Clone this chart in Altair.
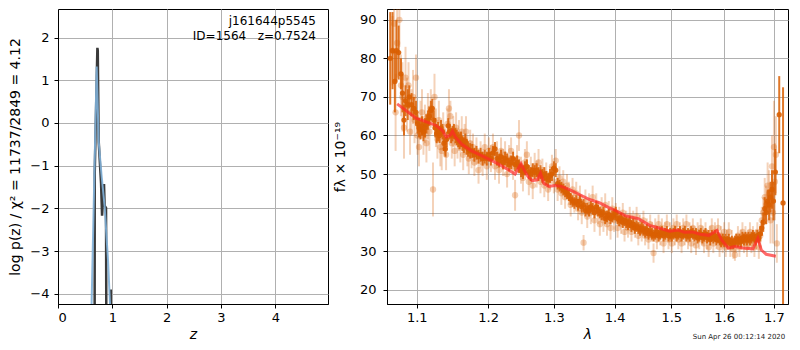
import altair as alt
import pandas as pd

# ---------------- left panel: log p(z) ----------------
z_black = [0.672, 0.676, 0.725, 0.732, 0.749, 0.793, 0.811, 0.847, 0.858, 0.884, 0.905, 0.972, 0.976]
lp_black = [-12, -1.19, 1.76, 1.70, -0.43, -1.42, -2.17, -1.43, -1.94, -1.99, -12, -3.9, -12]
z_blue = [0.600, 0.616, 0.712, 0.749, 0.800, 0.858, 0.920, 0.963, 0.985]
lp_blue = [-5.5, -4.39, 1.32, -0.43, -1.20, -1.95, -3.20, -4.39, -5.5]
label_lines = ["j161644p5545", "ID=1564\u00a0\u00a0\u00a0z=0.7524"]
z_ticks = [0, 1, 2, 3, 4]
lp_ticks = [-4, -3, -2, -1, 0, 1, 2]

# ---------------- right panel: spectrum ----------------
lam_light = [
    1.068, 1.070, 1.072, 1.074, 1.077, 1.079, 1.081, 1.083, 1.085, 1.087,
    1.089, 1.091, 1.093, 1.095, 1.097, 1.099, 1.101, 1.103, 1.105, 1.107,
    1.109, 1.111, 1.113, 1.115, 1.117, 1.119, 1.122, 1.124, 1.126, 1.128,
    1.130, 1.132, 1.134, 1.136, 1.138, 1.140, 1.142, 1.144, 1.146, 1.148,
    1.150, 1.152, 1.154, 1.156, 1.158, 1.160, 1.162, 1.164, 1.166, 1.168,
    1.170, 1.172, 1.174, 1.176, 1.178, 1.180, 1.183, 1.186, 1.189, 1.192,
    1.195, 1.198, 1.201, 1.204, 1.207, 1.210, 1.213, 1.216, 1.219, 1.222,
    1.225, 1.228, 1.231, 1.234, 1.237, 1.240, 1.243, 1.246, 1.249, 1.252,
    1.255, 1.258, 1.261, 1.264, 1.267, 1.270, 1.273, 1.276, 1.279, 1.282,
    1.285, 1.288, 1.291, 1.294, 1.297, 1.300, 1.303, 1.306, 1.309, 1.312,
    1.315, 1.318, 1.321, 1.324, 1.327, 1.330, 1.333, 1.336, 1.339, 1.342,
    1.345, 1.348, 1.351, 1.354, 1.357, 1.360, 1.363, 1.366, 1.369, 1.372,
    1.375, 1.378, 1.381, 1.384, 1.387, 1.390, 1.393, 1.396, 1.399, 1.402,
    1.405, 1.408, 1.411, 1.414, 1.417, 1.420, 1.423, 1.426, 1.429, 1.432,
    1.435, 1.438, 1.441, 1.444, 1.447, 1.450, 1.453, 1.456, 1.459, 1.462,
    1.465, 1.468, 1.471, 1.474, 1.477, 1.480, 1.483, 1.486, 1.489, 1.492,
    1.495, 1.498, 1.501, 1.504, 1.507, 1.510, 1.513, 1.516, 1.519, 1.522,
    1.525, 1.528, 1.531, 1.534, 1.537, 1.540, 1.543, 1.546, 1.549, 1.552,
    1.555, 1.558, 1.561, 1.564, 1.567, 1.570, 1.573, 1.576, 1.579, 1.582,
    1.585, 1.588, 1.591, 1.594, 1.597, 1.600, 1.603, 1.606, 1.609, 1.612,
    1.615, 1.618, 1.621, 1.624, 1.627, 1.630, 1.633, 1.636, 1.639, 1.642,
    1.645, 1.648, 1.651, 1.654, 1.657, 1.660, 1.663, 1.666, 1.669, 1.672,
    1.675, 1.678, 1.681, 1.684, 1.687, 1.690, 1.693, 1.696, 1.698, 1.700,
    1.702, 1.704, 1.706,
]
flux_light = [
    82, 89, 66, 84, 90, 73, 70, 62, 75, 68,
    73, 61, 66, 70, 64, 75, 60, 57, 64, 66,
    60, 63, 58, 65, 61, 67, 46, 70, 62, 59,
    64, 57, 56, 61, 59, 55, 63, 67, 65, 58,
    61, 56, 62, 58, 60, 57, 61, 55, 59, 61,
    56, 54, 58, 55, 57, 53, 56, 51, 55, 53,
    57, 52, 56, 54, 57, 52, 55, 51, 56, 53,
    55, 50, 54, 56, 52, 44.5, 54, 60, 51, 49,
    53, 55, 48, 51, 47, 52, 50, 53, 48, 51,
    47, 50, 46, 49, 52, 48, 53.5, 46, 49, 45,
    48, 44, 47, 45, 42, 46, 43, 45, 41, 44,
    40, 32.2, 43, 39, 42, 40, 44, 38, 42, 40,
    37, 41, 38, 42, 37, 40, 36, 41, 38, 40,
    36, 39, 37, 40, 35, 38, 36, 39, 35, 38,
    36, 39, 34, 37, 35, 38, 34, 36, 33, 37,
    35, 29.5, 36, 33, 37, 34, 36, 32, 35, 37,
    33, 35, 32, 36, 34, 37, 33, 35, 32, 36,
    34, 37, 33, 35, 32, 36, 34, 31.5, 35, 33,
    36, 34, 32, 35, 33, 31, 34, 36, 32, 35,
    33, 36, 31, 34, 32, 35, 31, 33, 35, 31,
    33, 30.5, 29, 32, 34, 31, 33, 35, 32, 34,
    31, 33, 35, 32, 34, 31, 33, 35, 31, 34,
    38, 40, 44, 42, 47, 45, 38, 52, 40, 57,
    48, 55, 32,
]
err_light = [
    9, 8, 10, 9, 7, 8, 9, 8, 8, 7,
    6, 6, 6, 7, 6, 6, 5, 5, 5, 6,
    5, 5, 5, 6, 5, 5, 7, 6, 5, 5,
    5, 5, 5, 5, 4, 4, 4, 5, 4, 4,
    4, 4, 4, 4, 4, 4, 4, 4, 4, 4,
    4, 4, 3.5, 3.5, 3.5, 3.5, 3.5, 3.5, 3.5, 3.5,
    3.5, 3.5, 3.5, 3.5, 3.5, 3.5, 3.5, 3.5, 3.5, 3.5,
    3.5, 3.5, 3.5, 3.5, 3.5, 4, 3.5, 4, 3.5, 3.5,
    3.5, 3.5, 3.5, 3.5, 3.5, 3.5, 3.5, 3.5, 3, 3,
    3, 3, 3, 3, 3, 3, 3, 3, 3, 3,
    3, 3, 3, 3, 3, 3, 3, 3, 3, 3,
    3, 2, 3, 3, 3, 3, 3, 3, 3, 3,
    3, 3, 3, 3, 3, 3, 3, 3, 3, 2.5,
    2.5, 2.5, 2.5, 2.5, 2.5, 2.5, 2.5, 2.5, 2.5, 2.5,
    2.5, 2.5, 2.5, 2.5, 2.5, 2.5, 2.5, 2.5, 2.5, 2.5,
    2.5, 2.5, 2.5, 2.5, 2.5, 2.5, 2.5, 2.5, 2.5, 2.5,
    2.5, 2.5, 2.5, 2.5, 2.5, 2.5, 2.5, 2.5, 2.5, 2.5,
    2.5, 2.5, 2.5, 2.5, 2.5, 2.5, 2.5, 2.5, 2.5, 2.5,
    2.5, 2.5, 2.5, 2.5, 2.5, 2.5, 2.5, 2.5, 2.5, 2.5,
    2.5, 2.5, 2.5, 2.5, 2.5, 2.5, 2.5, 2.5, 2.5, 2.5,
    2.5, 2.5, 1.5, 2.5, 2.5, 2.5, 2.5, 2.5, 2.5, 2.5,
    2.5, 2.5, 2.5, 2.5, 2.5, 2.5, 2.5, 2.5, 3, 3,
    3.5, 4, 5, 5, 6, 6, 6, 8, 8, 12,
    10, 10, 5,
]

lam_dark = [
    1.065, 1.068, 1.071, 1.073, 1.076, 1.079, 1.081, 1.083, 1.085, 1.088,
    1.090, 1.093, 1.096, 1.099, 1.101, 1.103, 1.105, 1.107, 1.109, 1.111,
    1.113, 1.115, 1.117, 1.119, 1.121, 1.123, 1.125, 1.127, 1.129, 1.131,
    1.133, 1.135, 1.137, 1.139, 1.141, 1.143, 1.145, 1.147, 1.149, 1.151,
    1.153, 1.155, 1.157, 1.159, 1.161, 1.163, 1.165, 1.167, 1.169, 1.171,
    1.174, 1.177, 1.180, 1.183, 1.186, 1.189, 1.192, 1.195, 1.198, 1.201,
    1.204, 1.207, 1.210, 1.213, 1.216, 1.219, 1.222, 1.225, 1.228, 1.231,
    1.234, 1.237, 1.240, 1.243, 1.246, 1.249, 1.252, 1.255, 1.258, 1.261,
    1.264, 1.267, 1.270, 1.273, 1.276, 1.279, 1.282, 1.285, 1.288, 1.291,
    1.294, 1.297, 1.300, 1.303, 1.306, 1.309, 1.312, 1.315, 1.318, 1.321,
    1.324, 1.327, 1.330, 1.333, 1.336, 1.339, 1.342, 1.345, 1.348, 1.351,
    1.354, 1.357, 1.360, 1.363, 1.366, 1.369, 1.372, 1.375, 1.378, 1.381,
    1.384, 1.387, 1.390, 1.393, 1.396, 1.399, 1.402, 1.405, 1.408, 1.411,
    1.414, 1.417, 1.420, 1.423, 1.426, 1.429, 1.432, 1.435, 1.438, 1.441,
    1.444, 1.447, 1.450, 1.453, 1.456, 1.459, 1.462, 1.465, 1.468, 1.471,
    1.474, 1.477, 1.480, 1.483, 1.486, 1.489, 1.492, 1.495, 1.498, 1.501,
    1.504, 1.507, 1.510, 1.513, 1.516, 1.519, 1.522, 1.525, 1.528, 1.531,
    1.534, 1.537, 1.540, 1.543, 1.546, 1.549, 1.552, 1.555, 1.558, 1.561,
    1.564, 1.567, 1.570, 1.573, 1.576, 1.579, 1.582, 1.585, 1.588, 1.591,
    1.594, 1.597, 1.600, 1.603, 1.606, 1.609, 1.612, 1.615, 1.618, 1.621,
    1.624, 1.627, 1.630, 1.633, 1.636, 1.639, 1.642, 1.645, 1.648, 1.651,
    1.654, 1.657, 1.660, 1.663, 1.666, 1.669, 1.672, 1.675, 1.678, 1.681,
    1.684, 1.687, 1.690, 1.693, 1.696, 1.699, 1.703, 1.711, 1.719,
]
flux_dark = [
    80, 82, 74, 82, 81.5, 76, 71, 64, 69, 68,
    70, 68, 67, 66, 63, 62, 61.5, 62.5, 61, 62,
    63, 64, 65, 66.5, 67, 64, 62, 60.5, 61, 60,
    62, 61, 58, 56.5, 59, 62.5, 61, 60, 60.5, 61,
    60, 59.5, 59, 58.5, 59, 58, 57.5, 58.5, 57, 56.5,
    56, 56, 55, 55.5, 54.5, 55, 54, 54.5, 54, 55,
    54, 55.5, 56.5, 54, 53.5, 54.5, 53, 54, 53.5, 52.5,
    53, 54, 52.5, 53, 52, 51, 50.5, 51.5, 52, 50.5,
    50, 51, 50.5, 51, 50, 50.5, 49.5, 50, 49, 48.5,
    49.5, 50, 51.5, 51, 47.5, 47, 46.5, 46, 45.5, 45,
    44.5, 43.5, 43, 42.5, 43, 42, 43, 41.5, 42, 40.5,
    41, 40.5, 41.5, 41, 40, 41.5, 40.5, 40, 39.5, 40,
    38.5, 39, 39.5, 38.5, 39, 39.5, 40, 38.5, 38, 38.5,
    37.5, 38, 37.5, 37, 37.5, 36.5, 37, 36, 36.5, 36,
    35.5, 36, 35.5, 35, 35.5, 34.5, 35, 34.5, 34, 34.5,
    35, 34, 34.5, 35, 34, 34.5, 35, 34, 34.5, 34,
    34.5, 35, 34, 34.5, 35, 34, 34.5, 35, 34, 34.5,
    34, 35, 34.5, 34, 34.5, 33.5, 34, 34.5, 33.5, 34,
    34.5, 33.5, 34, 33, 34, 33.5, 34, 33, 33.5, 33,
    32.5, 33, 32.5, 33, 32.5, 33, 32, 32.5, 32, 32.5,
    33, 32.5, 33, 32.5, 33.5, 33, 33.5, 33, 33.5, 33,
    33.5, 34, 33.5, 33, 34, 33.5, 34.5, 36, 37.5, 41,
    40, 43, 42, 44, 46, 43, 50.5, 65.4, 42.5,
]
err_dark = [
    12, 10, 8, 8, 7, 4, 5, 4, 4, 4,
    3, 3, 3, 3, 2.5, 2.5, 2.5, 2.5, 2.5, 2.5,
    2.5, 2.5, 2.5, 2.5, 2.5, 2.5, 2.5, 2.5, 2.5, 2,
    2, 2, 2, 2, 2, 2, 2, 2, 2, 2,
    2, 2, 2, 2, 2, 2, 2, 2, 2, 2,
    2, 1.8, 1.8, 1.8, 1.8, 1.8, 1.8, 1.8, 1.8, 1.8,
    1.8, 1.8, 1.8, 1.8, 1.8, 1.8, 1.8, 1.8, 1.8, 1.8,
    1.8, 1.8, 1.8, 1.8, 1.8, 1.8, 1.8, 1.8, 1.8, 1.8,
    1.8, 1.8, 1.8, 1.8, 1.8, 1.8, 1.8, 1.8, 1.8, 1.8,
    1.8, 1.8, 1.8, 1.8, 1.5, 1.5, 1.5, 1.5, 1.5, 1.5,
    1.5, 1.5, 1.5, 1.5, 1.5, 1.5, 1.5, 1.5, 1.5, 1.5,
    1.5, 1.5, 1.5, 1.5, 1.5, 1.5, 1.5, 1.5, 1.5, 1.5,
    1.5, 1.5, 1.5, 1.5, 1.5, 1.5, 1.5, 1.5, 1.5, 1.5,
    1.5, 1.5, 1.5, 1.5, 1.5, 1.5, 1.5, 1.5, 1.5, 1.5,
    1.5, 1.5, 1.5, 1.5, 1.5, 1.5, 1.5, 1.5, 1.5, 1.5,
    1.5, 1.5, 1.5, 1.5, 1.5, 1.5, 1.5, 1.5, 1.5, 1.5,
    1.5, 1.5, 1.5, 1.5, 1.5, 1.5, 1.5, 1.5, 1.5, 1.5,
    1.5, 1.5, 1.5, 1.5, 1.5, 1.5, 1.5, 1.5, 1.5, 1.5,
    1.5, 1.5, 1.5, 1.5, 1.5, 1.5, 1.5, 1.5, 1.5, 1.5,
    1.5, 1.5, 1.5, 1.5, 1.5, 1.5, 1.5, 1.5, 1.5, 1.5,
    1.5, 1.5, 1.5, 1.5, 1.5, 1.5, 1.5, 1.5, 1.5, 1.5,
    1.5, 1.5, 1.5, 1.5, 1.5, 1.5, 2, 2, 2.5, 3,
    3, 3, 4, 4, 5, 5, 6, 10, 30,
]

lam_model = [1.074, 1.099, 1.112, 1.126, 1.135, 1.140, 1.146, 1.149, 1.153, 1.162,
             1.176, 1.195, 1.214, 1.231, 1.240, 1.249, 1.254, 1.260, 1.266, 1.274,
             1.279, 1.284, 1.292, 1.302, 1.312, 1.326, 1.341, 1.358, 1.374, 1.390,
             1.402, 1.418, 1.441, 1.461, 1.482, 1.497, 1.512, 1.524, 1.539, 1.554,
             1.570, 1.586, 1.595, 1.608, 1.621, 1.637, 1.657, 1.667, 1.674, 1.684,
             1.704]
flux_model = [68.2, 64.5, 63.6, 62.6, 61.3, 59.6, 60.1, 61.1, 59.6, 57.7,
              56.0, 54.4, 52.7, 51.0, 50.0, 52.7, 51.0, 49.3, 48.3, 48.5,
              50.2, 47.6, 46.8, 47.0, 46.8, 45.9, 44.7, 43.4, 42.6, 41.3,
              40.5, 39.2, 38.4, 36.7, 35.8, 35.2, 35.5, 34.9, 35.0, 34.4,
              34.1, 35.4, 32.9, 30.8, 31.2, 30.8, 30.6, 33.3, 30.3, 29.2,
              28.7]
lam_ticks = [1.1, 1.2, 1.3, 1.4, 1.5, 1.6, 1.7]
flux_ticks = [20, 30, 40, 50, 60, 70, 80, 90]
timestamp = ["Sun Apr 26 00:12:14 2020"]

# ---------------- build tables ----------------
df_black = pd.DataFrame({"z": z_black, "lp": lp_black})
df_blue = pd.DataFrame({"z": z_blue, "lp": lp_blue})
df_lab = pd.DataFrame({"t": label_lines})

df_light = pd.DataFrame({"lam": lam_light, "f": flux_light, "e": err_light})
df_light["lo"] = df_light["f"] - df_light["e"]
df_light["hi"] = df_light["f"] + df_light["e"]
df_dark = pd.DataFrame({"lam": lam_dark, "f": flux_dark, "e": err_dark})
df_dark["lo"] = df_dark["f"] - df_dark["e"]
df_dark["hi"] = df_dark["f"] + df_dark["e"]
df_model = pd.DataFrame({"lam": lam_model, "f": flux_model})
df_ts = pd.DataFrame({"t": timestamp})

ORANGE = "#d95f02"

# ---------------- left panel ----------------
W1, W2, H = 270, 401, 295
zscale = alt.Scale(domain=[0, 4.97], nice=False, zero=False)
lpscale = alt.Scale(domain=[-4.24, 2.67], nice=False, zero=False)
zaxis = alt.Axis(values=z_ticks, title="z", titleFontStyle="italic",
                 labelPadding=3, titlePadding=3, format="d")
lpaxis = alt.Axis(values=lp_ticks, title="log p(z) / χ² = 11737/2849 = 4.12",
                  labelPadding=5, titlePadding=7, format="d")

black = alt.Chart(df_black).mark_line(color="#3a3a3a", strokeWidth=2.5, clip=True).encode(
    x=alt.X("z:Q", scale=zscale, axis=zaxis),
    y=alt.Y("lp:Q", scale=lpscale, axis=lpaxis),
)
blue = alt.Chart(df_blue).mark_line(color="#7fb0d8", strokeWidth=2, opacity=0.9, clip=True).encode(
    x=alt.X("z:Q", scale=zscale, axis=zaxis),
    y=alt.Y("lp:Q", scale=lpscale, axis=lpaxis),
)
lab1 = alt.Chart(df_lab.iloc[[0]]).mark_text(align="right", baseline="middle", fontSize=12,
                                              font="DejaVu Sans", color="black").encode(
    x=alt.value(258), y=alt.value(12), text="t:N")
lab2 = alt.Chart(df_lab.iloc[[1]]).mark_text(align="right", baseline="middle", fontSize=12,
                                              font="DejaVu Sans", color="black").encode(
    x=alt.value(258), y=alt.value(27), text="t:N")
left = alt.layer(black, blue, lab1, lab2).properties(width=W1, height=H)

# ---------------- right panel ----------------
lscale = alt.Scale(type="log", domain=[1.0608, 1.7294], nice=False, zero=False)
fscale = alt.Scale(domain=[16.3, 92.8], nice=False, zero=False)
laxis = alt.Axis(values=lam_ticks, format=".1f", title="λ", titleFontStyle="italic",
                 labelPadding=3, titlePadding=3)
faxis = alt.Axis(values=flux_ticks, title="fλ × 10⁻¹⁹", labelPadding=7, titlePadding=12, format="d")

X = alt.X("lam:Q", scale=lscale, axis=laxis)


def errbars(df, opacity):
    return alt.Chart(df).mark_rule(color=ORANGE, strokeWidth=2, opacity=opacity, clip=True).encode(
        x=X, y=alt.Y("lo:Q", scale=fscale, axis=faxis), y2="hi:Q")


def dots(df, opacity, size):
    return alt.Chart(df).mark_circle(color=ORANGE, size=size, opacity=opacity, clip=True).encode(
        x=X, y=alt.Y("f:Q", scale=fscale, axis=faxis))


model = alt.Chart(df_model).mark_line(color="#ff2a2a", strokeWidth=3, opacity=0.7, clip=True).encode(
    x=X, y=alt.Y("f:Q", scale=fscale, axis=faxis))
ts = alt.Chart(df_ts).mark_text(align="center", baseline="middle", fontSize=7,
                                font="DejaVu Sans", color="#222222").encode(
    x=alt.value(352), y=alt.value(H + 33), text="t:N")

right = alt.layer(
    errbars(df_light, 0.28), dots(df_light, 0.3, 40),
    errbars(df_dark, 0.85), dots(df_dark, 0.9, 28),
    model, ts,
).properties(width=W2, height=H)

chart = alt.hconcat(left, right, spacing=3).properties(
    padding={"left": 0, "top": 0, "right": 0, "bottom": 0}
).configure_axis(
    labelFont="DejaVu Sans", titleFont="DejaVu Sans",
    labelFontSize=13, titleFontSize=14, titleFontWeight="normal",
    labelColor="black", titleColor="black",
    gridColor="#b0b0b0", gridWidth=1, gridOpacity=1,
    domainColor="black", tickColor="black", tickSize=4,
).configure_view(stroke="black", strokeWidth=1)

chart.save("out.html", embed_options={"renderer": "svg", "actions": False})
